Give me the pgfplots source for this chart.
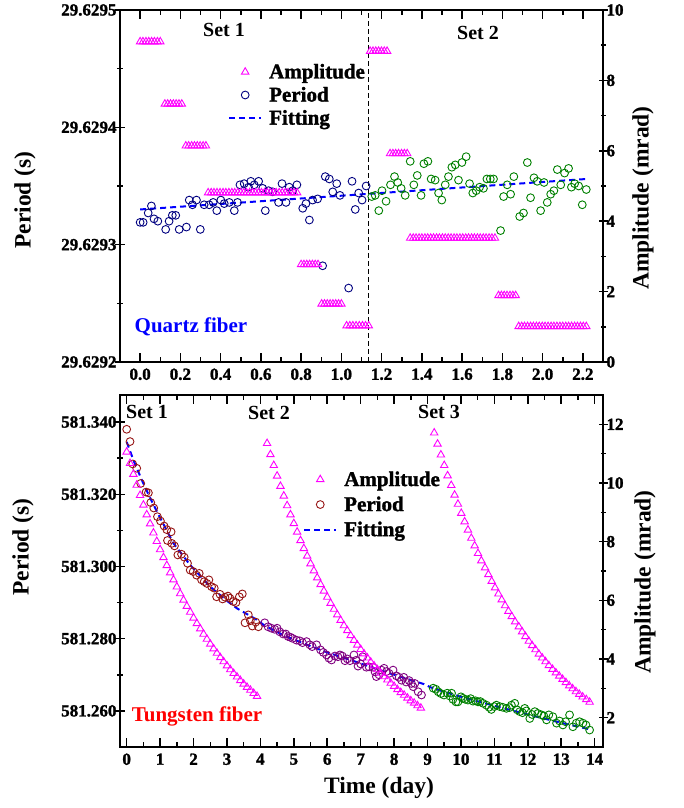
\documentclass[border=0pt]{standalone}
\usepackage{fontspec}
\setmainfont{Liberation Serif}
\newfontface\bserif{Liberation Serif Bold}
\newfontface\bserifax{Liberation Serif Bold}[FakeBold=1.5]
\usepackage{pgfplots}
\pgfplotsset{compat=1.18}
\definecolor{navyc}{RGB}{0,0,128}
\definecolor{greenc}{RGB}{0,128,0}
\definecolor{maroonc}{RGB}{150,20,20}
\definecolor{purplec}{RGB}{128,0,128}
\definecolor{magc}{RGB}{255,0,255}
\newcommand{\tickfont}{\fontsize{17bp}{17bp}\bserifax}
\newcommand{\labfont}{\fontsize{23.5bp}{24bp}\bserif}
\newcommand{\setfont}{\fontsize{20bp}{20bp}\bserif}
\newcommand{\legfont}{\fontsize{21bp}{24bp}\bserif}
\newcommand{\legaxfont}{\fontsize{21bp}{24bp}\bserifax}
\pgfplotsset{
  mybase/.style={
    scale only axis, width=483bp, height=352bp, anchor=south west,
    axis line style={line width=2bp},
    tick style={line width=1.5bp, black},
    major tick length=9bp, minor tick length=5bp,
    tick align=inside,
    tick label style={font=\tickfont},
    xticklabel style={yshift=-3bp},
    /pgf/number format/assume math mode=true,
    clip=false,
  },
  leftper/.style={ytick pos=left,
    every major y tick/.append style={xshift=-4.5bp},
    every minor y tick/.append style={xshift=-2.5bp}},
  rightamp/.style={axis y line*=right, hide x axis, tick align=inside,
    every major y tick/.append style={xshift=4.5bp},
    every minor y tick/.append style={xshift=2.5bp}},
  triang/.style={only marks, color=magc, mark=triangle, mark size=4.3bp,
    mark options={draw=magc, line width=0.9bp, fill=none}},
  circ/.style={only marks, color=#1, mark=o, mark size=3.9bp,
    mark options={draw=#1, line width=0.9bp, fill=none}},
  fitline/.style={blue, line width=2bp, dash pattern=on 6bp off 4bp, no marks},
  myleg/.style={legend cell align=left,
    legend style={draw=none, fill=none, font=\legaxfont, inner sep=0pt,
      /tikz/every odd column/.append style={column sep=5bp}},
    legend image code/.code={\draw[mark repeat=2,mark phase=2,##1] plot coordinates {(0bp,0bp) (16bp,0bp) (32bp,0bp)};}},
}
\begin{document}
\begin{tikzpicture}
\useasboundingbox (0,0) rectangle (684bp,808bp);
% ================= TOP PANEL (quartz fiber) =================
% Period stored as (P - 29.6292 s) in microseconds
\begin{axis}[mybase, leftper, at={(120bp,446bp)},
  xmin=-0.1, xmax=2.3, ymin=0, ymax=300,
  xtick={0,0.2,...,2.2}, minor x tick num=1,
  xticklabel style={/pgf/number format/.cd, fixed, fixed zerofill, precision=1},
  ytick={0,100,200,300},
  yticklabels={29.6292,29.6293,29.6294,29.6295},
  minor y tick num=1]
\addplot[black, line width=0.8bp, dash pattern=on 5bp off 3bp] coordinates {(1.136,0) (1.136,300)};
\addplot[circ=navyc] coordinates {
(0.000,119)(0.015,119)(0.040,127)(0.056,133)(0.069,122)(0.088,120)(0.127,113)(0.144,120)
(0.160,125)(0.177,125)(0.194,113)(0.230,115)(0.244,138)(0.260,134)(0.280,138)(0.299,113)
(0.318,134)(0.343,134)(0.363,136)(0.381,129)(0.401,138)(0.418,135)(0.443,136)(0.468,129)
(0.484,136)(0.496,151)(0.517,152)(0.539,149)(0.550,154)(0.567,151)(0.589,154)(0.609,148)
(0.622,129)(0.638,146)(0.658,145)(0.688,136)(0.705,152)(0.725,136)(0.741,149)(0.758,146)
(0.779,151)(0.808,131)(0.824,135)(0.841,121)(0.857,138)(0.882,139)(0.907,82)(0.920,158)
(0.940,156)(0.957,145)(0.977,152)(0.993,142)(1.036,63)(1.053,154)(1.069,130)(1.086,144)
(1.103,138)(1.123,150)};
\addplot[circ=greenc] coordinates {
(1.151,141)(1.168,142)(1.186,129)(1.202,146)(1.222,137)(1.244,151)(1.264,158)(1.280,153)
(1.297,148)(1.317,142)(1.342,171)(1.360,151)(1.377,159)(1.396,142)(1.410,169)(1.430,171)
(1.446,156)(1.466,155)(1.483,144)(1.499,138)(1.516,151)(1.532,158)(1.549,166)(1.566,168)
(1.582,155)(1.599,170)(1.620,175)(1.637,152)(1.653,144)(1.670,146)(1.687,149)(1.706,148)
(1.723,156)(1.740,156)(1.756,156)(1.791,112)(1.806,141)(1.824,151)(1.841,143)(1.857,158)
(1.886,124)(1.905,127)(1.924,170)(1.940,140)(1.957,157)(1.973,154)(1.990,129)(2.007,153)
(2.023,136)(2.040,143)(2.056,146)(2.073,164)(2.090,151)(2.109,161)(2.129,165)(2.143,149)
(2.159,152)(2.179,150)(2.197,134)(2.217,147)};
\addplot[fitline] coordinates {(0,130) (2.22,156)};
\end{axis}
\begin{axis}[mybase, rightamp, myleg, at={(120bp,446bp)},
  xmin=-0.1, xmax=2.3, ymin=0, ymax=10,
  ytick={0,2,...,10}, minor y tick num=1,
  legend style={at={(0.2236,0.853)}, anchor=north west, row sep=3bp}]
\addplot[triang] coordinates {
(0.000,9.1)(0.014,9.1)(0.029,9.1)(0.043,9.1)(0.057,9.1)(0.071,9.1)(0.086,9.1)(0.100,9.1)
(0.123,7.33)(0.137,7.33)(0.151,7.33)(0.165,7.33)(0.179,7.33)(0.193,7.33)(0.207,7.33)
(0.227,6.14)(0.241,6.14)(0.256,6.14)(0.270,6.14)(0.284,6.14)(0.298,6.14)(0.313,6.14)(0.327,6.14)
(0.338,4.81)(0.353,4.81)(0.367,4.81)(0.382,4.81)(0.397,4.81)(0.412,4.81)(0.426,4.81)(0.441,4.81)
(0.456,4.81)(0.470,4.81)(0.485,4.81)(0.500,4.81)(0.515,4.81)(0.529,4.81)(0.544,4.81)(0.559,4.81)
(0.573,4.81)(0.588,4.81)(0.603,4.81)(0.618,4.81)(0.632,4.81)(0.647,4.81)(0.662,4.81)(0.676,4.81)
(0.691,4.81)(0.706,4.81)(0.721,4.81)(0.735,4.81)(0.750,4.81)(0.765,4.81)(0.780,4.81)
(0.800,2.77)(0.814,2.77)(0.828,2.77)(0.842,2.77)(0.856,2.77)(0.870,2.77)(0.884,2.77)
(0.902,1.65)(0.916,1.65)(0.930,1.65)(0.944,1.65)(0.958,1.65)(0.972,1.65)(0.986,1.65)(1.000,1.65)
(1.026,1.03)(1.042,1.03)(1.057,1.03)(1.073,1.03)(1.089,1.03)(1.105,1.03)(1.120,1.03)(1.136,1.03)
(1.143,8.83)(1.157,8.83)(1.171,8.83)(1.185,8.83)(1.199,8.83)(1.213,8.83)(1.227,8.83)
(1.242,5.92)(1.256,5.92)(1.270,5.92)(1.284,5.92)(1.299,5.92)(1.313,5.92)(1.327,5.92)
(1.342,3.52)(1.357,3.52)(1.371,3.52)(1.386,3.52)(1.400,3.52)(1.415,3.52)(1.429,3.52)(1.444,3.52)
(1.458,3.52)(1.473,3.52)(1.487,3.52)(1.502,3.52)(1.516,3.52)(1.531,3.52)(1.545,3.52)(1.560,3.52)
(1.574,3.52)(1.589,3.52)(1.603,3.52)(1.618,3.52)(1.632,3.52)(1.647,3.52)(1.661,3.52)(1.676,3.52)
(1.690,3.52)(1.705,3.52)(1.719,3.52)(1.734,3.52)(1.748,3.52)(1.763,3.52)
(1.781,1.89)(1.795,1.89)(1.809,1.89)(1.823,1.89)(1.838,1.89)(1.852,1.89)(1.866,1.89)
(1.881,1.01)(1.896,1.01)(1.910,1.01)(1.925,1.01)(1.940,1.01)(1.954,1.01)(1.969,1.01)(1.983,1.01)
(1.998,1.01)(2.012,1.01)(2.027,1.01)(2.042,1.01)(2.056,1.01)(2.071,1.01)(2.086,1.01)(2.100,1.01)
(2.115,1.01)(2.129,1.01)(2.144,1.01)(2.159,1.01)(2.173,1.01)(2.188,1.01)(2.202,1.01)(2.217,1.01)};
\addlegendentry{Amplitude}
\addlegendimage{circ=navyc}
\addlegendentry{Period}
\addlegendimage{fitline}
\addlegendentry{Fitting}
\end{axis}
% ================= BOTTOM PANEL (tungsten fiber) =================
% Period stored as (P - 581.25 s) in milliseconds
\begin{axis}[mybase, leftper, at={(120bp,61bp)},
  xmin=-0.2, xmax=14.25, ymin=0, ymax=97.5,
  xtick={0,1,...,14}, minor x tick num=1,
  ytick={10,30,50,70,90},
  yticklabels={581.260,581.280,581.300,581.320,581.340},
  minor y tick num=1]
\addplot[circ=maroonc] coordinates {
(0.00,88.0)(0.10,84.6)(0.18,78.4)(0.30,77.2)(0.42,73.0)(0.58,70.6)(0.65,70.4)(0.72,67.7)
(0.81,66.2)(0.92,63.8)(1.01,62.6)(1.12,61.2)(1.20,60.2)(1.22,57.2)(1.33,59.6)(1.35,56.4)
(1.43,55.7)(1.53,53.2)(1.64,53.4)(1.72,52.6)(1.82,50.9)(1.90,49.0)(1.99,48.6)(2.09,47.6)
(2.17,48.1)(2.24,46.3)(2.32,45.8)(2.40,45.3)(2.46,46.3)(2.54,44.4)(2.62,44.0)(2.69,41.6)
(2.79,42.3)(2.87,41.0)(2.94,41.5)(3.03,41.8)(3.09,41.2)(3.19,40.3)(3.27,40.0)(3.37,41.6)
(3.46,42.4)(3.54,34.4)(3.64,36.6)(3.70,35.0)(3.76,33.5)(3.86,34.6)(3.94,33.3)};
\addplot[circ=purplec] coordinates {
(4.13,34.4)(4.23,33.3)(4.33,32.9)(4.43,32.6)(4.50,32.9)(4.58,31.9)(4.68,31.3)(4.76,31.3)
(4.83,30.6)(4.90,30.4)(4.96,30.1)(5.08,29.6)(5.18,29.4)(5.26,28.9)(5.38,29.2)(5.48,28.3)
(5.55,27.8)(5.68,28.3)(5.80,26.9)(5.88,26.2)(5.98,25.5)(6.05,24.6)(6.13,24.1)(6.23,25.2)
(6.32,25.0)(6.38,25.5)(6.45,25.2)(6.53,23.9)(6.60,24.4)(6.68,23.9)(6.80,25.5)(6.86,24.0)
(6.92,22.4)(7.00,23.0)(7.06,25.0)(7.17,22.1)(7.25,22.2)(7.37,22.1)(7.43,20.8)(7.47,19.5)
(7.55,20.0)(7.62,21.3)(7.70,21.8)(7.77,20.9)(7.85,20.4)(7.97,21.3)(8.07,19.7)(8.15,19.3)
(8.22,18.5)(8.29,19.3)(8.36,18.0)(8.45,18.4)(8.52,17.6)(8.57,16.7)(8.62,17.6)(8.72,15.3)
(8.82,14.4)};
\addplot[circ=greenc] coordinates {
(9.17,16.3)(9.25,16.0)(9.32,15.3)(9.40,14.8)(9.49,14.4)(9.59,14.9)(9.67,14.1)(9.72,14.9)
(9.76,13.2)(9.85,12.5)(9.91,12.5)(10.00,13.9)(10.06,13.5)(10.13,13.2)(10.21,13.0)(10.29,13.4)
(10.36,12.7)(10.44,12.8)(10.51,12.5)(10.58,12.6)(10.66,12.1)(10.76,11.6)(10.84,11.0)(10.91,10.4)
(11.00,11.2)(11.06,11.6)(11.16,11.2)(11.25,11.0)(11.36,10.7)(11.45,10.9)(11.51,11.6)(11.61,12.1)
(11.68,10.3)(11.76,9.8)(11.84,9.5)(11.91,10.7)(11.96,10.0)(12.06,7.9)(12.13,9.0)(12.21,9.8)
(12.30,9.3)(12.41,8.9)(12.48,8.6)(12.56,7.5)(12.63,8.9)(12.75,8.4)(12.86,6.6)(12.95,7.2)
(13.05,6.1)(13.13,7.0)(13.25,8.9)(13.35,5.6)(13.45,6.6)(13.55,7.0)(13.65,6.6)(13.74,6.1)
(13.85,4.7)};
\addplot[fitline] coordinates {
(0.0,84.5)(0.2,79.5)(0.45,74.0)(0.7,69.0)(1.0,63.5)(1.4,56.4)(1.9,50.4)(2.5,44.4)(3.0,40.5)
(3.3,38.4)(3.9,35.2)(4.1,33.8)(4.7,30.9)(5.4,28.3)(6.0,26.2)(6.7,24.1)(7.7,20.9)(8.9,17.4)
(9.1,16.5)(9.4,15.6)(10.0,13.9)(11.0,11.4)(12.0,9.0)(13.0,6.7)(13.85,4.9)};
\end{axis}
\begin{axis}[mybase, rightamp, myleg, at={(120bp,61bp)},
  xmin=-0.2, xmax=14.25, ymin=1, ymax=13,
  ytick={2,4,...,12}, minor y tick num=1,
  legend style={at={(0.379,0.789)}, anchor=north west, row sep=5bp}]
\addplot[triang] coordinates {
(0.0,11.06)(0.1,10.67)(0.2,10.30)(0.3,9.93)(0.4,9.58)(0.5,9.25)(0.6,8.92)(0.7,8.61)(0.8,8.30)
(0.9,8.01)(1.0,7.73)(1.1,7.46)(1.2,7.19)(1.3,6.94)(1.4,6.70)(1.5,6.46)(1.6,6.23)(1.7,6.01)
(1.8,5.80)(1.9,5.60)(2.0,5.40)(2.1,5.21)(2.2,5.03)(2.3,4.85)(2.4,4.68)(2.5,4.51)(2.6,4.35)
(2.7,4.20)(2.8,4.05)(2.9,3.91)(3.0,3.77)(3.1,3.64)(3.2,3.51)(3.3,3.39)(3.4,3.27)(3.5,3.15)
(3.6,3.04)(3.7,2.94)(3.8,2.83)(3.9,2.73)
(4.2,11.35)(4.3,10.97)(4.4,10.60)(4.5,10.24)(4.6,9.89)(4.7,9.56)(4.8,9.23)(4.9,8.92)(5.0,8.62)
(5.1,8.33)(5.2,8.04)(5.3,7.77)(5.4,7.51)(5.5,7.25)(5.6,7.01)(5.7,6.77)(5.8,6.54)(5.9,6.32)
(6.0,6.11)(6.1,5.90)(6.2,5.70)(6.3,5.51)(6.4,5.32)(6.5,5.14)(6.6,4.97)(6.7,4.80)(6.8,4.64)
(6.9,4.48)(7.0,4.33)(7.1,4.18)(7.2,4.04)(7.3,3.90)(7.4,3.77)(7.5,3.64)(7.6,3.52)(7.7,3.40)
(7.8,3.29)(7.9,3.18)(8.0,3.07)(8.1,2.96)(8.2,2.86)(8.3,2.77)(8.4,2.67)(8.5,2.58)(8.6,2.50)
(8.7,2.41)(8.8,2.33)
(9.20,11.71)(9.30,11.33)(9.40,10.96)(9.50,10.60)(9.60,10.25)(9.71,9.92)(9.81,9.59)(9.91,9.28)
(10.01,8.97)(10.11,8.68)(10.21,8.40)(10.31,8.12)(10.41,7.86)(10.51,7.60)(10.61,7.35)(10.72,7.11)
(10.82,6.88)(10.92,6.65)(11.02,6.43)(11.12,6.22)(11.22,6.02)(11.32,5.82)(11.42,5.63)(11.52,5.45)
(11.62,5.27)(11.73,5.10)(11.83,4.93)(11.93,4.77)(12.03,4.61)(12.13,4.46)(12.23,4.32)(12.33,4.17)
(12.43,4.04)(12.53,3.91)(12.63,3.78)(12.74,3.65)(12.84,3.53)(12.94,3.42)(13.04,3.31)(13.14,3.20)
(13.24,3.09)(13.34,2.99)(13.44,2.89)(13.54,2.80)(13.64,2.71)(13.75,2.62)(13.85,2.53)};
\addlegendentry{Amplitude}
\addlegendimage{circ=maroonc}
\addlegendentry{Period}
\addlegendimage{fitline}
\addlegendentry{Fitting}
\end{axis}
% ================= TEXT =================
\node[font=\setfont] at (224bp,778bp) {Set 1};
\node[font=\setfont] at (478bp,775bp) {Set 2};
\node[font=\setfont] at (147bp,396bp) {Set 1};
\node[font=\setfont] at (269bp,395bp) {Set 2};
\node[font=\setfont] at (439bp,396bp) {Set 3};
\node[font=\legfont, text=blue] at (191bp,481bp) {Quartz fiber};
\node[font=\legfont, text=red] at (197bp,92bp) {Tungsten fiber};
\node[rotate=90, font=\labfont] at (25bp,608bp) {Period (s)};
\node[rotate=90, font=\labfont] at (23bp,261bp) {Period (s)};
\node[rotate=90, font=\labfont] at (643bp,610bp) {Amplitude (mrad)};
\node[rotate=90, font=\labfont] at (645bp,226bp) {Amplitude (mrad)};
\node[font=\labfont] at (379bp,20bp) {Time (day)};
\end{tikzpicture}
\end{document}
